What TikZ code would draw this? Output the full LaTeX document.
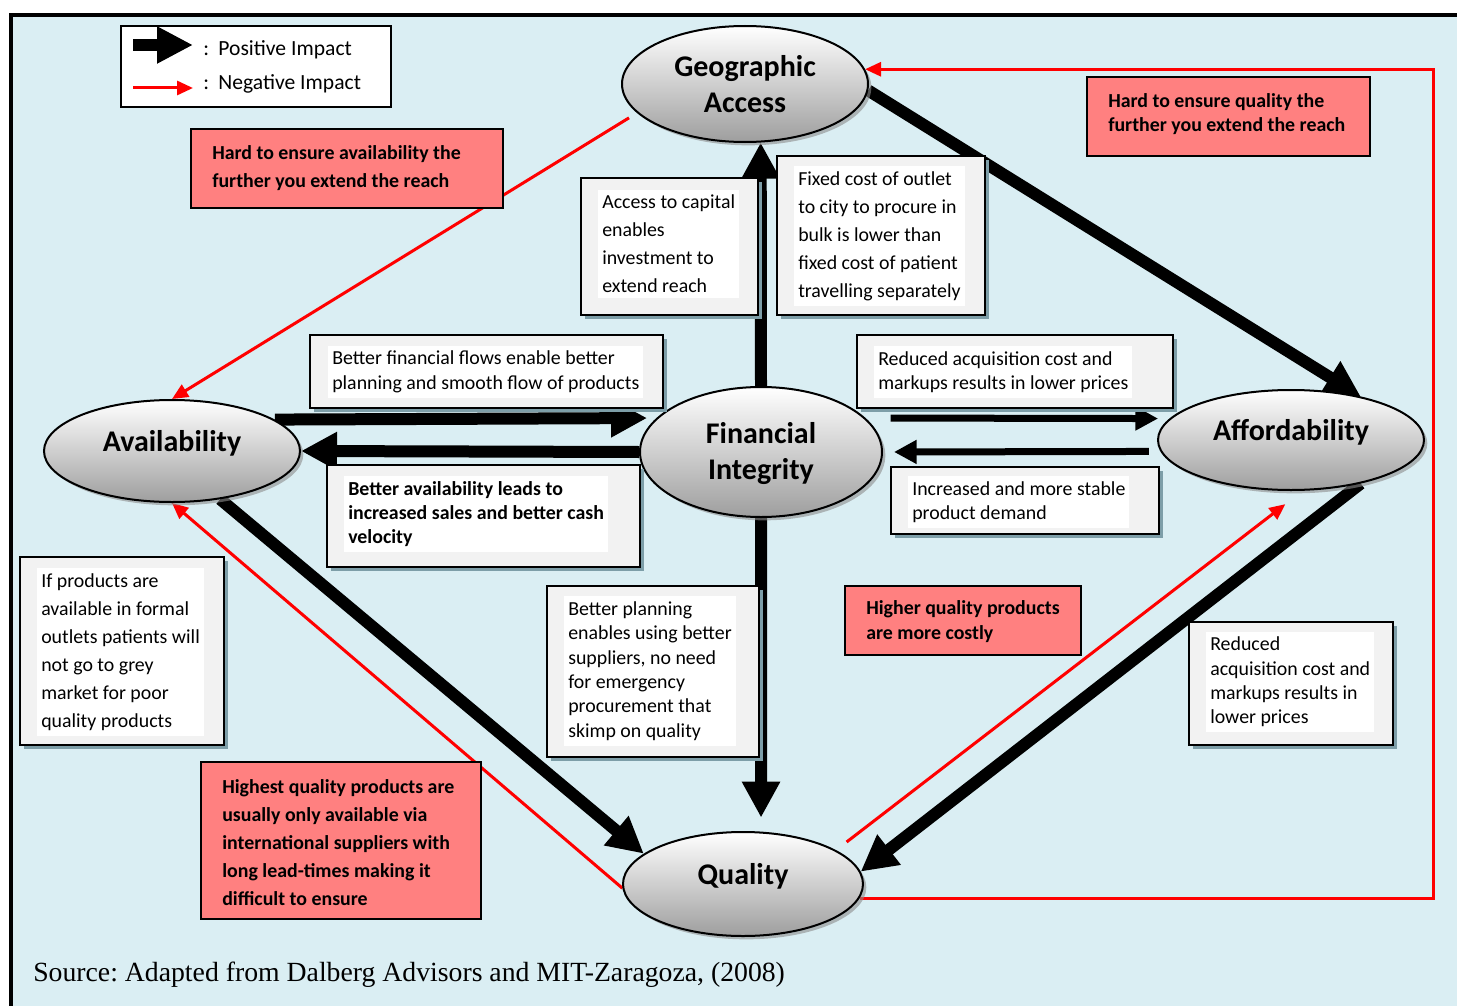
\documentclass[tikz,border=0pt]{standalone}
\usepackage{fontspec}
\setmainfont{Carlito}
\newfontfamily\srcfont{Liberation Serif}
\usetikzlibrary{arrows.meta,shapes.geometric,shadows,fit}

\definecolor{bgblue}{HTML}{DAEEF3}
\definecolor{negred}{HTML}{FF0000}
\definecolor{notered}{HTML}{FF8080}
\definecolor{boxgrey}{HTML}{F2F2F2}
\definecolor{boxshadow}{RGB}{125,158,168}

% single-line factor labels sit a little above the centre of their ellipse
\newcommand{\liftlabel}[1]{\raisebox{0pt}[\height][\dimexpr\depth+12pt\relax]{#1}}
% two-line factor labels sit a little below it
\newcommand{\droplabel}[2]{\raisebox{0pt}[\dimexpr\height+#1\relax][\depth]{\begin{tabular}{@{}c@{}}#2\end{tabular}}}

\tikzset{
  factor/.style={ellipse, draw=black, line width=1.5pt, inner sep=0pt,
    top color=white, bottom color=black!38, align=center,
    font=\fontsize{22.5}{27}\selectfont\bfseries,
    drop shadow={shadow xshift=2.5pt, shadow yshift=-2.5pt, fill=black!45, opacity=.6}},
  wbox/.style={draw=black, line width=1.5pt, fill=boxgrey, inner sep=0pt,
    drop shadow={shadow xshift=3pt, shadow yshift=-3pt, fill=boxshadow, opacity=1}},
  wtext/.style={fill=white, anchor=west, align=left, inner xsep=3pt, inner ysep=4pt,
    font=\fontsize{14.9}{18.3}\selectfont},
  wtextloose/.style={wtext, font=\fontsize{14.9}{21}\selectfont},
  rbox/.style={draw=black, line width=1.2pt, fill=notered, inner sep=0pt},
  rtext/.style={anchor=west, align=left, inner sep=0pt},
  posarrow/.style={line width=9pt, -{Triangle[length=27pt,width=27pt]}},
  thinarrow/.style={line width=5.25pt, -{Triangle[length=17pt,width=17pt]}},
  negarrow/.style={draw=negred, line width=2.25pt, -{Triangle[length=12pt,width=10.5pt]}},
}

\begin{document}
\begin{tikzpicture}[x=0.75pt, y=-0.75pt]
\useasboundingbox (0,0) rectangle (1457,1006);
\clip (0,0) rectangle (1457,1006);
\fill[white] (0,0) rectangle (1457,1006);
\filldraw[fill=bgblue, draw=black, line width=3pt] (11.3,15.3) rectangle (1490,1040);

% placement of the five factors (drawn later, over the links)
\path
  (745,84)  coordinate (gac)
  (172,451) coordinate (avc)
  (761,452) coordinate (fic)
  (1291,440) coordinate (affc)
  (743,884) coordinate (qc);

% outlines of the factors that the links attach to
\begin{scope}[every node/.style={ellipse, inner sep=0pt, line width=1.5pt}]
  \node[minimum width=184.5pt, minimum height=87pt]   (ga)  at (gac)  {};
  \node[minimum width=192pt,   minimum height=76.5pt] (av)  at (avc)  {};
  \node[minimum width=181.5pt, minimum height=97.5pt] (fi)  at (fic)  {};
  \node[minimum width=199.5pt, minimum height=75pt]   (aff) at (affc) {};
  \node[minimum width=180pt,   minimum height=78pt]   (q)   at (qc)   {};
\end{scope}

% positive links
\draw[posarrow] (fi.north) -- (ga.-75);
\draw[posarrow, shorten >=10.5pt] (fi.south) -- (q.71);
\draw[posarrow, shorten >=7pt] (av.17) -- (fi.162);
\draw[posarrow] (fi.west) -- (av.east);
\draw[thinarrow, shorten <=18.75pt, shorten >=8.5pt] (fi.18) -- (aff.170);
\draw[thinarrow, shorten <=8.6pt, shorten >=8.25pt] (aff.185) -- (fi.east);
\draw[posarrow] (ga.-3) -- (aff.32);
\draw[posarrow] (av.-45) -- (q.163);
\draw[posarrow] (aff.-32) -- (q.6);

% negative links
\coordinate (rtrack) at (1433,0);
\draw[negarrow, shorten <=7pt] (ga.195) -- (av.north);
\draw[negarrow] (q.182) -- (av.south);
\draw[negarrow, shorten <=10pt, shorten >=16.4pt] (q.20) -- (aff.-77);
\draw[negarrow] (q.-7) -- (q.-7 -| rtrack) -- (ga.7 -| rtrack) -- (ga.7);

% the five factors
\node[factor, minimum width=184.5pt, minimum height=87pt]   (gaf)  at (gac)  {\droplabel{4.5pt}{Geographic\\Access}};
\node[factor, minimum width=192pt,   minimum height=76.5pt] (avf)  at (avc)  {\liftlabel{Availability}};
\node[factor, minimum width=181.5pt, minimum height=97.5pt] (fif)  at (fic)  {\droplabel{3.75pt}{Financial\\Integrity}};
\node[factor, minimum width=199.5pt, minimum height=75pt]   (afff) at (affc) {\liftlabel{Affordability}};
\node[factor, minimum width=180pt,   minimum height=78pt]   (qf)   at (qc)   {\liftlabel{Quality}};

% legend
\node[draw=black, line width=1.5pt, fill=white, inner sep=0pt, fit={(121,26) (391,107)}] (legend) {};
\coordinate (lgpa) at (133,45);
\coordinate (lgpb) at (193,45);
\coordinate (lgna) at (133,88);
\coordinate (lgnb) at (193,88);
\draw[line width=9pt, -{Triangle[length=27pt,width=26pt]}] (lgpa) -- (lgpb);
\draw[negarrow] (lgna) -- (lgnb);
\node[rtext, font=\fontsize{16.2}{18}\selectfont] (lgpos) at (203,50) {:\hspace{7pt}Positive Impact};
\node[rtext, font=\fontsize{16.2}{18}\selectfont] (lgneg) at (203,84) {:\hspace{7pt}Negative Impact};

% explanation boxes
\node[wbox, fit={(581,178) (758,315)}] (accbox) {};
\node[wtextloose] (acctext) at (598,244) {Access to capital\\enables\\investment to\\extend reach};

\node[wbox, fit={(777,156) (985,315)}] (fixbox) {};
\node[wtextloose] (fixtext) at (794,236) {Fixed cost of outlet\\to city to procure in\\bulk is lower than\\fixed cost of patient\\travelling separately};

\node[wbox, fit={(310,335) (663,408)}] (bffbox) {};
\node[wtext] (bfftext) at (328,372) {Better financial flows enable better\\planning and smooth flow of products};

\node[wbox, fit={(327,465) (640,567)}] (bavbox) {};
\node[wtext, font=\fontsize{14.9}{18.3}\selectfont\bfseries] (bavtext) at (344,514) {Better availability leads to\\increased sales and better cash\\velocity};

\node[wbox, fit={(857,335) (1173,408)}] (racbox) {};
\node[wtext] (ractext) at (874,372) {Reduced acquisition cost and\\markups results in lower prices};

\node[wbox, fit={(891,467) (1159,534)}] (incbox) {};
\node[wtext] (inctext) at (908,502) {Increased and more stable\\product demand};

\node[wbox, fit={(20,557) (224,745)}] (ifpbox) {};
\node[wtextloose] (ifptext) at (37,652) {If products are\\available in formal\\outlets patients will\\not go to grey\\market for poor\\quality products};

\node[wbox, fit={(547,586) (759,757)}] (bplbox) {};
\node[wtext] (bpltext) at (564,671) {Better planning\\enables using better\\suppliers, no need\\for emergency\\procurement that\\skimp on quality};

\node[wbox, fit={(1189,622) (1393,745)}] (rac2box) {};
\node[wtext] (rac2text) at (1206,682) {Reduced\\acquisition cost and\\markups results in\\lower prices};

% red notes on the negative links
\node[rbox, fit={(191,129) (503,208)}] (ravbox) {};
\node[rtext, font=\fontsize{14.9}{21}\selectfont\bfseries] (ravtext) at (212,168) {Hard to ensure availability the\\further you extend the reach};

\node[rbox, fit={(1087,77) (1370,156)}] (rqbox) {};
\node[rtext, font=\fontsize{14.9}{18}\selectfont\bfseries] (rqtext) at (1108,114) {Hard to ensure quality the\\further you extend the reach};

\node[rbox, fit={(845,586) (1081,655)}] (rhqbox) {};
\node[rtext, font=\fontsize{14.9}{18.75}\selectfont\bfseries] (rhqtext) at (866,622) {Higher quality products\\are more costly};

\node[rbox, fit={(201,762) (481,919)}] (rintbox) {};
\node[rtext, font=\fontsize{14.9}{21}\selectfont\bfseries] (rinttext) at (222,843) {Highest quality products are\\usually only available via\\international suppliers with\\long lead-times making it\\difficult to ensure};

% source line
\node[rtext, font=\srcfont\fontsize{20.8}{24}\selectfont] (src) at (33,975) {\frenchspacing Source: Adapted from Dalberg Advisors and MIT-Zaragoza, (2008)};
\end{tikzpicture}
\end{document}
